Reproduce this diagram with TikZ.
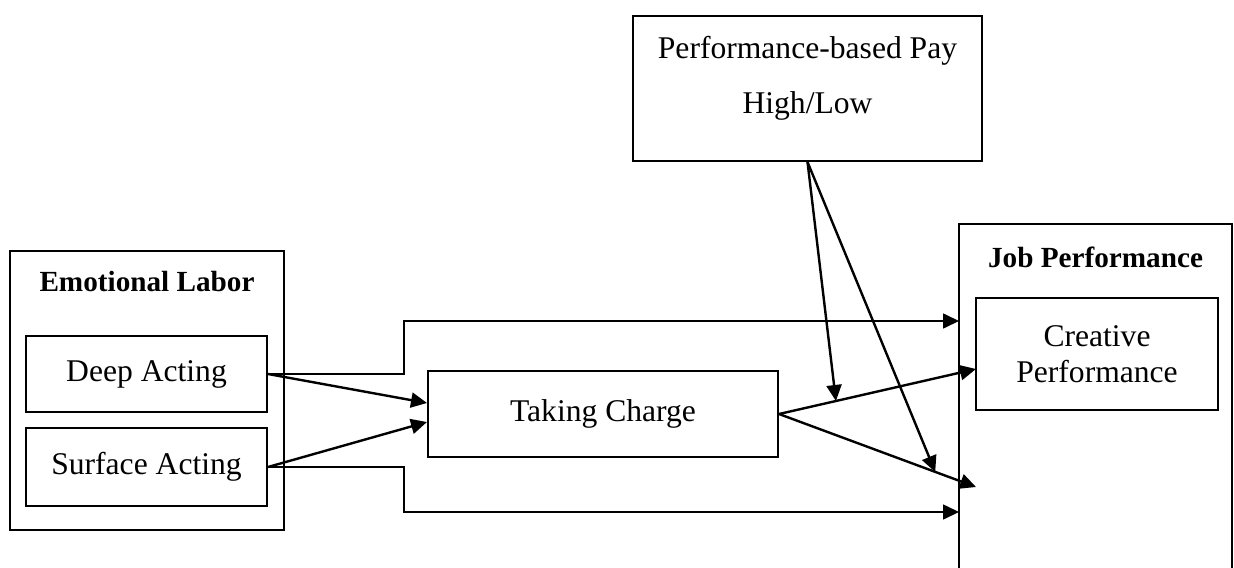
\documentclass[tikz,border=0pt]{standalone}
\usepackage{fontspec}
\setmainfont{Liberation Serif}
\usepackage{tikz}
\usetikzlibrary{positioning,arrows.meta,calc}
\tikzset{
  box/.style  ={draw=black, line width=1pt, fill=white, align=center,
                inner sep=2pt, font=\fontsize{15.8pt}{18pt}\selectfont},
  ttl/.style  ={font=\fontsize{14.6pt}{17pt}\selectfont\bfseries,
                inner sep=0pt},
  ar/.style   ={-{Triangle[length=8pt, width=7.5pt]}, line width=1.2pt},
  ln/.style   ={-{Triangle[length=8pt, width=7.5pt]}, line width=0.8pt}
}

\begin{document}
\begin{tikzpicture}[x=0.5pt, y=-0.5pt]
\useasboundingbox (0,0) rectangle (1234,567);

% outer groups
\node[box, minimum width=137pt, minimum height=139.5pt] (el) at (147,390.5) {};
\node[ttl] (elt) at (147,282) {Emotional Labor};
\node[box, minimum width=136.5pt, minimum height=178pt] (jp) at (1095.5,402) {};
\node[ttl] (jpt) at (1095.5,257) {Job Performance};

% variables
\node[box, minimum width=120.5pt, minimum height=38pt] (deep) at (146.5,374) {Deep Acting};
\node[box, minimum width=120.5pt, minimum height=39pt] (surf) at (146.5,467) {Surface Acting};
\node[box, minimum width=175pt, minimum height=43pt] (tc) at (603,414) {Taking Charge};
\node[box, minimum width=121pt, minimum height=56pt] (cp) at (1097,354) {Creative\\Performance};
\node[box, minimum width=174.5pt, minimum height=72.5pt] (pbp) at (807.5,88.5) {};
\node[box, draw=none, fill=none, font=\fontsize{15.8pt}{27.5pt}\selectfont,
      below=8pt of pbp.north] (pbpt) {Performance-based Pay\\High/Low};

% arrow ends
\coordinate (jpin1) at (959,321);
\coordinate (jpin2) at (976,487);
\coordinate (jpin3) at (959,512);
\coordinate (cpin)  at (976,369);
\coordinate (pbpout) at (pbp.south);
\coordinate (m1) at ($(tc.east)!0.289!(cpin)$);
\coordinate (m2) at ($(tc.east)!0.793!(jpin2)$);

% direct paths
\draw[ln] (deep.east) -- ++(136,0) |- (jpin1);
\draw[ln] (surf.east) -- ++(136,0) |- (jpin3);

% mediation
\draw[ar] (deep.east) -- ($(tc.west)+(0,-11)$);
\draw[ar] (surf.east) -- ($(tc.west)+(0,8)$);
\draw[ar] (tc.east) -- (cpin);
\draw[ar] (tc.east) -- (jpin2);

% moderation
\draw[ar] (pbpout) -- (m1);
\draw[ar] (pbpout) -- (m2);
\end{tikzpicture}
\end{document}
